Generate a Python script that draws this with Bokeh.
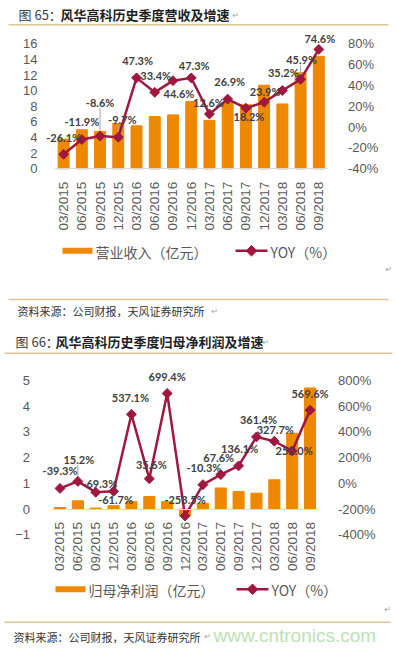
from math import pi
from bokeh.plotting import figure
from bokeh.models import (ColumnDataSource, Range1d, LinearAxis, FixedTicker,
                          PrintfTickFormatter, CustomJSTickFormatter, LabelSet)
from bokeh.embed import file_html
from bokeh.resources import INLINE
from bokeh.core.properties import value

# ---------------- data ----------------
quarters = ["03/2015", "06/2015", "09/2015", "12/2015",
            "03/2016", "06/2016", "09/2016", "12/2016",
            "03/2017", "06/2017", "09/2017", "12/2017",
            "03/2018", "06/2018", "09/2018"]
revenue = [3.8, 5.0, 4.8, 5.8, 5.5, 6.7, 6.9, 8.6, 6.2, 8.5, 8.2, 10.7, 8.3, 12.3, 14.4]
revenue_yoy = [-26.1, -11.9, -8.6, -9.7, 47.3, 33.4, 44.6, 47.3, 12.6, 26.9, 18.2, 23.9, 35.2, 45.9, 74.6]
profit = [0.06, 0.32, 0.04, 0.13, 0.29, 0.49, 0.29, -0.27, 0.23, 0.82, 0.68, 0.62, 1.14, 2.95, 4.71]
profit_yoy = [-39.3, 15.2, -69.3, -61.7, 537.1, 35.6, 699.4, -253.5, -10.3, 67.6, 136.1, 361.4, 327.7, 252.0, 569.6]

rev_ticks = [0, 2, 4, 6, 8, 10, 12, 14, 16]
rev_yoy_ticks = [-40, -20, 0, 20, 40, 60, 80]
profit_ticks = [-1, 0, 1, 2, 3, 4, 5]
profit_yoy_ticks = [-400, -200, 0, 200, 400, 600, 800]

title1_a, title1_b = "图 65：", "风华高科历史季度营收及增速"
title2_a, title2_b = "图 66：", "风华高科历史季度归母净利润及增速"
legend1_bar, legend1_line = "营业收入（亿元）", "YOY（%）"
legend2_bar, legend2_line = "归母净利润（亿元）", "YOY（%）"
source_text = "资料来源：公司财报，天风证券研究所"
watermark = "www.cntronics.com"

# label placement (screen px, style only)
rev_lab_dx = [0, 0, 0, 4, 1, 1, 6, 3, -1, 2, 3, 1, 1, 1, 1]
rev_lab_dy = [17, 18, 34, 18, 17, 17, -13, 12, 12, 18, -8, 11, 18, 20, 11]
pro_lab_dx = [0, 1, 4, 2, -1, 2, 0, 0, 1, -2, 1, 2, 1, 2, 0]
pro_lab_dy = [18, 22, 9, -8, 17, 14, 17, 16, 17, 17, 17, 17, 12, 0, 17]
rev_leaders = [2, 3, 13]   # points whose label has a leader line
pro_leaders = [1]

ORANGE = "#EE8800"
RED = "#A0173F"
GOLD = "#E2C595"
AXIS_TXT = "#595959"
W, H = 396, 650

CJK = value("Noto Sans CJK SC")
LAT = value("Liberation Sans")


def y_map(v_top, px_top, v_bot, px_bot):
    """range whose v_top / v_bot fall at the given canvas pixel rows"""
    per_px = (v_top - v_bot) / (px_bot - px_top)
    return Range1d(start=v_bot - (H - px_bot) * per_px,
                   end=v_top + px_top * per_px), per_px


def x_map(first_px, step):
    return Range1d(start=-first_px / step, end=(W - first_px) / step)


p = figure(width=W, height=H, x_range=Range1d(0, W), y_range=Range1d(H, 0),
           output_backend="svg", toolbar_location=None, min_border=0,
           x_axis_location=None, y_axis_location=None, outline_line_color=None,
           background_fill_color="white", border_fill_color="white")
p.grid.visible = False

v1, _ = y_map(rev_ticks[-1], 43.3, rev_ticks[0], 168.3)
r1, r1_pp = y_map(rev_yoy_ticks[-1], 43.3, rev_yoy_ticks[0], 168.3)
v2, _ = y_map(profit_ticks[-1], 380.0, profit_ticks[0], 534.3)
r2, r2_pp = y_map(profit_yoy_ticks[-1], 380.0, profit_yoy_ticks[0], 534.3)
p.extra_x_ranges = {"x1": x_map(63.1, 18.23), "x2": x_map(59.5, 17.86)}
p.extra_y_ranges = {"v1": v1, "r1": r1, "v2": v2, "r2": r2}


def txt(x, y, s, size, color="#404040", font=CJK, style="normal"):
    p.text(x=[x], y=[y], text=[s], text_font=font, text_font_size=size,
           text_color=color, text_font_style=style, text_align="left",
           text_baseline="middle")


def hline(y, x0=8, x1=388):
    p.line(x=[x0, x1], y=[y, y], line_color=GOLD, line_width=1.5)


def ret(x, y):
    txt(x, y, "↵", "8px", color="#A0A0A0", font=value("DejaVu Sans"))


def legend(y, bar_label, line_label, sw_x, line_x):
    p.quad(left=[sw_x], right=[sw_x + 30], top=[y - 3], bottom=[y + 3],
           fill_color=ORANGE, line_color=None)
    txt(sw_x + 33, y + 1, bar_label, "14px", color=AXIS_TXT)
    p.line(x=[line_x, line_x + 32], y=[y, y], line_color=RED, line_width=2.5)
    p.scatter(x=[line_x + 16], y=[y], marker="square", angle=pi / 4, size=7.5,
              color=RED)
    txt(line_x + 35, y + 1, line_label, "14px", color=AXIS_TXT)


def chart(xr, vr, rr, per_px, vals, yoy, ticks, yoy_ticks, dx, dy, leaders,
          bar_w, left_standoff, right_standoff):
    idx = list(range(len(quarters)))
    p.vbar(x=idx, top=vals, width=bar_w, color=ORANGE,
           x_range_name=xr, y_range_name=vr)
    # leader lines from label to point
    lx = [i for i in leaders]
    ly0 = [yoy[i] + 4 * per_px for i in leaders]
    ly1 = [yoy[i] + (dy[i] - 6) * per_px for i in leaders]
    p.segment(x0=lx, y0=ly0, x1=lx, y1=ly1, x_range_name=xr, y_range_name=rr,
              line_color="#A6A6A6", line_width=1)
    p.line(x=idx, y=yoy, x_range_name=xr, y_range_name=rr,
           line_color=RED, line_width=2.5)
    p.scatter(x=idx, y=yoy, x_range_name=xr, y_range_name=rr, marker="square",
              angle=pi / 4, size=7, color=RED)
    src = ColumnDataSource(dict(x=idx, y=yoy, label=[f"{v:.1f}%" for v in yoy],
                                dx=dx, dy=dy))
    p.add_layout(LabelSet(x="x", y="y", text="label", x_offset="dx", y_offset="dy",
                          x_range_name=xr, y_range_name=rr, source=src,
                          text_font=value("Lato"), text_font_style="bold",
                          text_font_size="11px", text_color="#404040",
                          text_align="center", text_baseline="middle"))
    common = dict(major_tick_line_color=None, minor_tick_line_color=None,
                  major_label_text_font="Liberation Sans",
                  major_label_text_font_size="13px",
                  major_label_text_color=AXIS_TXT)
    xa = LinearAxis(x_range_name=xr, y_range_name=vr, fixed_location=0,
                    bounds=(-0.5, len(quarters) - 0.5),
                    ticker=FixedTicker(ticks=idx),
                    formatter=CustomJSTickFormatter(
                        args=dict(labels=quarters),
                        code="return labels[Math.round(tick)] || ''"),
                    major_label_orientation=pi / 2, major_label_standoff=7,
                    axis_line_color="#D9D9D9", axis_line_width=1, **common)
    xa.major_label_text_font_size = "13.5px"
    p.add_layout(xa, "below")
    la = LinearAxis(x_range_name=xr, y_range_name=vr, fixed_location=-0.5,
                    bounds=(ticks[0], ticks[-1]), ticker=FixedTicker(ticks=ticks),
                    axis_line_color=None, major_label_standoff=left_standoff,
                    **common)
    p.add_layout(la, "left")
    ra = LinearAxis(x_range_name=xr, y_range_name=rr,
                    fixed_location=len(quarters) - 0.5,
                    bounds=(yoy_ticks[0], yoy_ticks[-1]),
                    ticker=FixedTicker(ticks=yoy_ticks),
                    formatter=PrintfTickFormatter(format="%d%%"),
                    axis_line_color=None, major_label_standoff=right_standoff,
                    **common)
    p.add_layout(ra, "right")


# ---------------- block 1 ----------------
txt(18, 14, title1_a, "13px", color="#404040")
txt(60, 14, title1_b, "13px", color="#1F1F1F", style="bold")
ret(232, 15)
hline(24.3)

chart("x1", "v1", "r1", r1_pp, revenue, revenue_yoy, rev_ticks, rev_yoy_ticks,
      rev_lab_dx, rev_lab_dy, rev_leaders, 0.6, 11, 14)

legend(250.3, legend1_bar, legend1_line, 62, 235)
ret(385, 269)
hline(299)
txt(17, 310, source_text, "11px", color="#333333")
ret(211, 311)

# ---------------- block 2 ----------------
txt(15, 341, title2_a, "13px", color="#404040")
txt(55, 341, title2_b, "13px", color="#1F1F1F", style="bold")
ret(262, 342)
hline(352.7, 4, 392)

chart("x2", "v2", "r2", r2_pp, profit, profit_yoy, profit_ticks, profit_yoy_ticks,
      pro_lab_dx, pro_lab_dy, pro_leaders, 0.62, 15, 13)

legend(588.8, legend2_bar, legend2_line, 55, 236)
ret(384, 609)
hline(621.7, 4, 390)
txt(13, 636, source_text, "11px", color="#333333")
ret(204, 636)
txt(213, 635, watermark, "19px", color="#BCE2B4", font=LAT)

open("out.html", "w").write(file_html(p, INLINE))
